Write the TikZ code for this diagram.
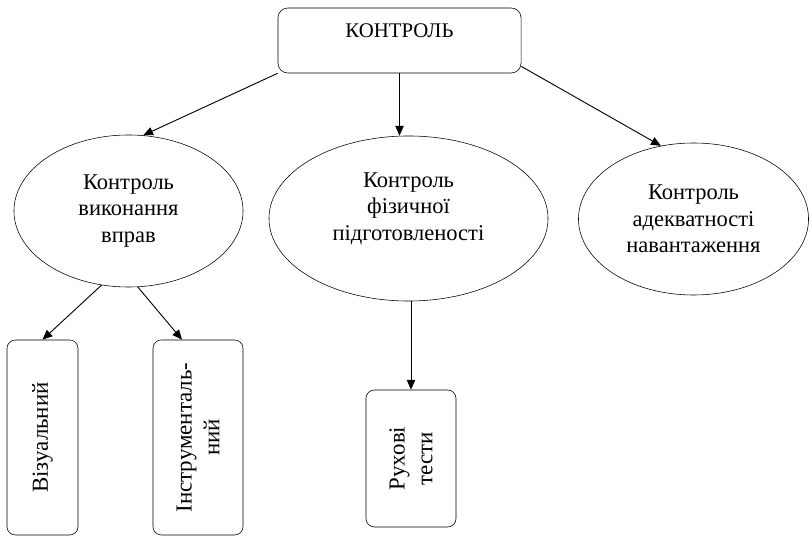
\documentclass[tikz,border=0pt]{standalone}
\usepackage{fontspec}
\setmainfont{Liberation Serif}
\usetikzlibrary{shapes,arrows.meta,positioning,calc}

\begin{document}
\begin{tikzpicture}[x=0.025cm, y=-0.025cm,
    head/.style={rectangle, draw, rounded corners=7pt, minimum width=6.075cm, inner ysep=0pt, text height=0.75cm, text depth=0.875cm, font=\fontsize{14.8}{18.5}\selectfont},
    oval/.style={ellipse, draw, inner sep=0pt, align=center, font=\fontsize{16}{19}\selectfont},
    leaf/.style={rectangle, draw, rounded corners=6pt, rotate=90, inner sep=0pt, align=center, minimum width=4.875cm, font=\fontsize{16.3}{19.8}\selectfont},
    arr/.style={-{Triangle[length=7pt,width=6pt]}, line width=0.65pt}
]
    \useasboundingbox (0,0) rectangle (810,536);

    \node[head] (ctrl) at (399.5,40.5) {КОНТРОЛЬ};

    \node[oval, minimum width=5.725cm, minimum height=3.8cm] (exer) at (128.5,211) {Контроль\\виконання\\вправ};
    \node[oval, minimum width=6.975cm, minimum height=4.125cm, text depth=0.6cm] (phys) at (408.5,218.5) {Контроль\\фізичної\\підготовленості};
    \node[oval, minimum width=5.75cm, minimum height=3.8cm] (load) at (693.5,219) {Контроль\\адекватності\\навантаження};

    \node[leaf, minimum height=1.775cm] (vis) at (42.5,437.5) {Візуальний};
    \node[leaf, minimum height=2.25cm] (instr) at (198,437.5) {Інструменталь-\\ний};
    \node[leaf, minimum height=2.25cm, minimum width=3.425cm] (tests) at (411,458.5) {Рухові\\тести};

    \draw[arr] (ctrl.south west) -- (exer.79);
    \draw[arr] (ctrl.south) -- (ctrl.south |- phys.north);
    \draw[arr] (ctrl.-12) -- (load.114);

    \draw[arr] (exer.250) -- (vis.east);
    \draw[arr] (exer.277) -- ($(instr.east)+(-16,0)$);
    \draw[arr] (phys.south -| tests.east) -- (tests.east);
\end{tikzpicture}
\end{document}
